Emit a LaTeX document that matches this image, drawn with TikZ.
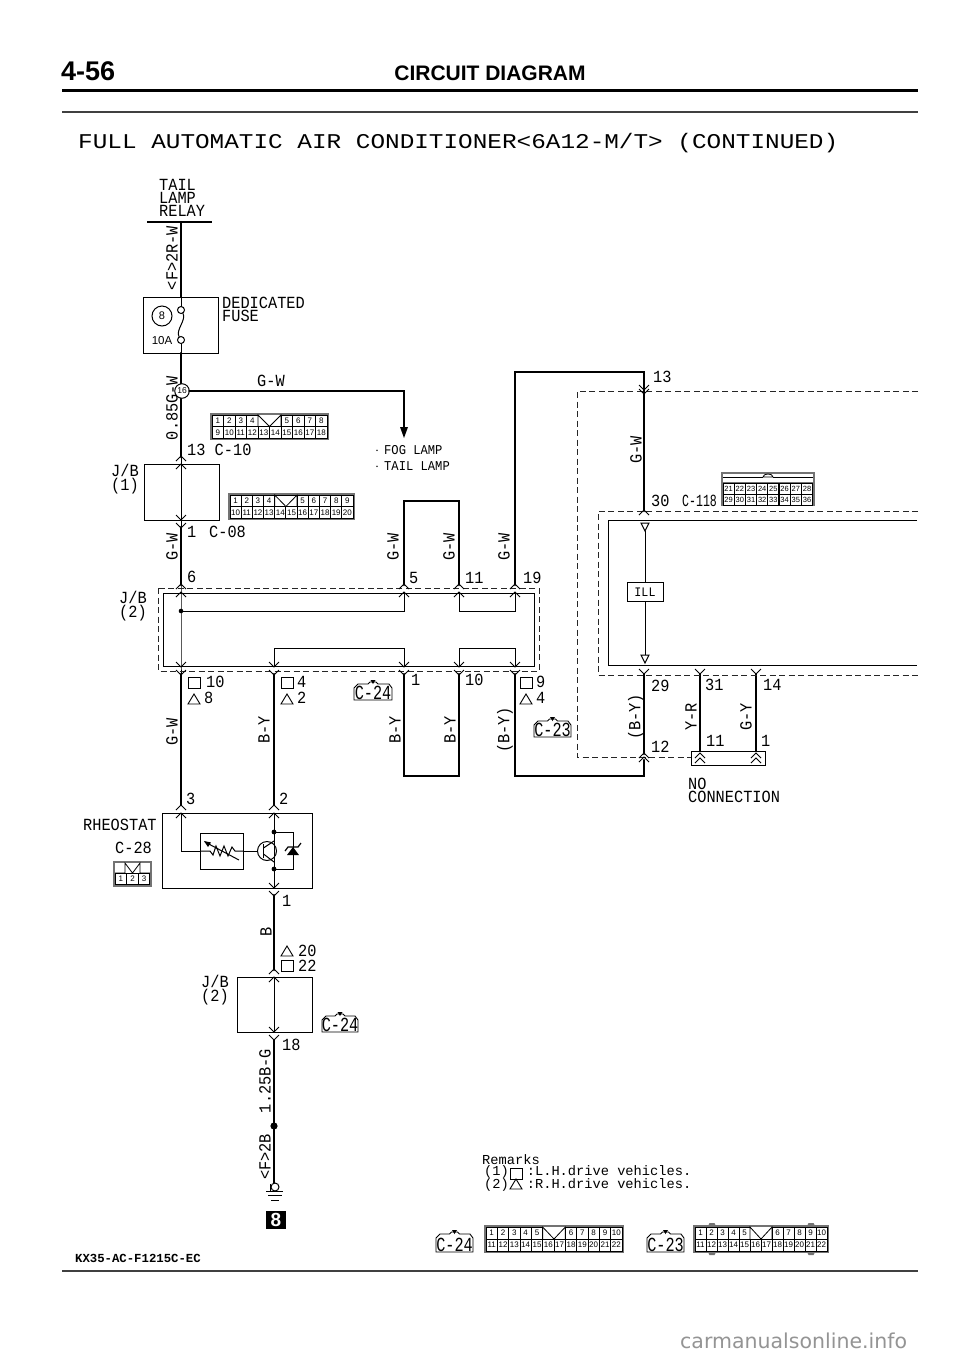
\documentclass[tikz,border=0pt]{standalone}
\usepackage{fontspec}
\setmainfont{Liberation Sans}
\newfontfamily\wfam[FakeStretch=0.9]{Liberation Mono}
\newfontfamily\nfam[FakeStretch=0.68]{Liberation Mono}
\newfontfamily\ifam[FakeStretch=0.76]{Liberation Mono}
\newfontfamily\tfam[FakeStretch=1.16]{Liberation Mono}
\newfontfamily\rfam{Liberation Mono}
\newfontfamily\dfam{DejaVu Sans}
\newcommand\wfx{\wfam\fontsize{17}{13}\selectfont}
\newcommand\nfx{\nfam\fontsize{17}{13}\selectfont}
\newcommand\sfx{\wfam\fontsize{13.5}{16}\selectfont}
\tikzset{
  wire/.style={line width=2.5pt,line cap=round,line join=miter},
  thin wire/.style={line width=1pt},
  boxn/.style={draw,line width=1pt,inner sep=0pt,outer sep=0pt},
  dash box/.style={line width=1pt,dash pattern=on 6pt off 3.5pt,black!85},
  chev/.style={line width=1pt},
  lab/.style={anchor=west,inner sep=0pt,font=\wfx},
  ctr/.style={inner sep=0pt,font=\wfx},
  rot/.style={inner sep=0pt,font=\wfx,rotate=90},
  cellnode/.style={draw,fill=white,line width=1pt,inner sep=0pt,outer sep=0pt,text height=5.8pt,text depth=0pt,font=\fontsize{8}{8}\selectfont},
  term/.style={circle,draw,fill=white,line width=1pt,inner sep=0pt,outer sep=0pt},
}
\newcommand\upc[2]{\draw[chev] (#1-5,#2+5) -- (#1,#2) -- (#1+5,#2+5);}
\newcommand\dnc[2]{\draw[chev] (#1-5,#2-5) -- (#1,#2) -- (#1+5,#2-5);}
\newcommand\bx[5]{\node[boxn,minimum width={#4-#2},minimum height={#5-#3}] (#1) at ({(#2+#4)/2},{(#3+#5)/2}) {};}
\newcommand\sqq[2]{\draw[line width=.9pt] (#1,#2) rectangle (#1+12,#2+11);}
\newcommand\trr[2]{\draw[line width=.9pt] (#1,#2+10) -- (#1+6,#2) -- (#1+12,#2+10) -- cycle;}
% connector: prefix x0 y0 x1 y1 columns nleft
\newcommand\conn[7]{%
  \pgfmathsetmacro\cellw{(#4-#2-4)/#6}%
  \pgfmathsetmacro\cellh{(#5-#3-4)/2}%
  \fill[black!55] (#2,#3) rectangle (#4,#5);
  \foreach \i in {1,...,#7} {\node[cellnode,minimum width=\cellw,minimum height=\cellh] (#1t\i) at ({#2+2+(\i-.5)*\cellw},{#3+2+.5*\cellh}) {\i};}
  \pgfmathtruncatemacro\ks{#7+1}%
  \pgfmathtruncatemacro\ne{#6-2}%
  \fill[white] ({#2+2+#7*\cellw},#3+2) rectangle ({#2+2+(#7+2)*\cellw},{#3+2+\cellh});
  \draw[line width=.8pt] ({#2+2+#7*\cellw},{#3+2+\cellh}) -- ({#2+2+#7*\cellw},#3+2) -- ({#2+2+(#7+1)*\cellw},{#3+2+\cellh}) -- ({#2+2+(#7+2)*\cellw},#3+2) -- ({#2+2+(#7+2)*\cellw},{#3+2+\cellh});
  \foreach \i in {\ks,...,\ne} {\node[cellnode,minimum width=\cellw,minimum height=\cellh] (#1t\i) at ({#2+2+(\i+1.5)*\cellw},{#3+2+.5*\cellh}) {\i};}
  \foreach \j [evaluate=\j as \k using int(\ne+\j)] in {1,...,#6} {\node[cellnode,minimum width=\cellw,minimum height=\cellh] (#1b\k) at ({#2+2+(\j-.5)*\cellw},{#3+2+1.5*\cellh}) {\k};}
}
% small connector icon: name x0 y0 x1 y1 text
\newcommand\icon[6]{%
  \draw[line width=.9pt] (#2,#5) -- (#2,#3+7) -- (#2+4,#3+3) -- ({(#2+#4)/2-5},#3+3) -- ({(#2+#4)/2-3},#3+1) -- ({(#2+#4)/2+3},#3+1) -- ({(#2+#4)/2+5},#3+3) -- (#4-3,#3+3) -- (#4,#3+7) -- (#4,#5) -- cycle;
  \fill ({(#2+#4)/2-2.5},#3-1) -- ({(#2+#4)/2+2.5},#3-1) -- ({(#2+#4)/2},#3+3) -- cycle;
  \node[ctr,inner sep=0pt,font=\ifam\fontsize{20}{20}\selectfont] (#1) at ({(#2+#4)/2},{#5-7.5}) {#6};
}
\begin{document}
\begin{tikzpicture}[x=1pt,y=-1pt]
\useasboundingbox (0,0) rectangle (960,1358);
\fill[white] (0,0) rectangle (960,1358);

% ---------- header
\node[anchor=west,inner sep=0pt,font=\bfseries\fontsize{27}{27}\selectfont] (page) at (61,71) {4-56};
\node[inner sep=0pt,font=\bfseries\fontsize{21}{21}\selectfont] (head) at (490,73) {CIRCUIT DIAGRAM};
\coordinate (h1a) at (62,90); \coordinate (h1b) at (918,90);
\draw[line width=3pt] (h1a) -- (h1b);
\coordinate (h2a) at (62,112); \coordinate (h2b) at (918,112);
\draw[line width=1.2pt,black!75] (h2a) -- (h2b);
\node[anchor=west,inner sep=0pt,font=\tfam\fontsize{21}{21}\selectfont] (title) at (78,143) {FULL AUTOMATIC AIR CONDITIONER<6A12-M/T> (CONTINUED)};

% ---------- named points
\coordinate (relayL) at (147,222); \coordinate (relayR) at (212,222);
\coordinate (wRelay) at (181,222);
\coordinate (fuseA) at (181,310); \coordinate (fuseB) at (181,340);
\coordinate (fAc) at (181,313.5); \coordinate (fBc) at (181,336.5);
\coordinate (fuseTop) at (181,297); \coordinate (fuseBot) at (181,353);
\coordinate (gwBend) at (404,391); \coordinate (gwEnd) at (404,428);
\coordinate (c13) at (181,457);
\coordinate (c1) at (181,527); \coordinate (c6) at (181,585);
\coordinate (jr) at (181,666);
\coordinate (jdot) at (181,611);
\coordinate (o5) at (404,611); \coordinate (i5) at (404,593);
\coordinate (i11) at (459,593); \coordinate (o11) at (459,611);
\coordinate (o19) at (515,611); \coordinate (i19) at (515,593);
\coordinate (i4) at (274,666); \coordinate (o4) at (274,648);
\coordinate (o1) at (404,648); \coordinate (i1) at (404,666);
\coordinate (i10) at (459,666); \coordinate (o10) at (459,648);
\coordinate (o9) at (515,648); \coordinate (i9) at (515,666);
\coordinate (w5) at (404,585); \coordinate (w5t) at (404,501);
\coordinate (w11) at (459,585); \coordinate (w11t) at (459,501);
\coordinate (w19) at (515,585); \coordinate (w19t) at (515,372);
\coordinate (w13t) at (644,372); \coordinate (w30) at (644,511);
\coordinate (l3t) at (181,674); \coordinate (l3) at (181,805);
\coordinate (l2t) at (274,674); \coordinate (l2) at (274,805);
\coordinate (l1t) at (404,674); \coordinate (l1b) at (404,776);
\coordinate (l10t) at (459,674); \coordinate (l10b) at (459,776);
\coordinate (l9t) at (515,674); \coordinate (l9b) at (515,776);
\coordinate (l12b) at (644,776); \coordinate (l12) at (644,760);
\coordinate (w29t) at (644,674); \coordinate (w29) at (644,754);
\coordinate (w31t) at (700,674); \coordinate (w31) at (700,751);
\coordinate (w14t) at (756,674); \coordinate (w14) at (756,751);
\coordinate (d1) at (577,391); \coordinate (d2) at (918,391);
\coordinate (d3) at (577,757); \coordinate (d4) at (691,757);
\coordinate (e1) at (918,511); \coordinate (e2) at (598,511);
\coordinate (e3) at (598,675); \coordinate (e4) at (918,675);
\coordinate (f1) at (917,520); \coordinate (f2) at (608,520);
\coordinate (f3) at (608,665); \coordinate (f4) at (917,665);
\coordinate (ill1) at (645,531); \coordinate (ill2) at (645,655);
\coordinate (rh3) at (181,813); \coordinate (rhB) at (181,851);
\coordinate (rhIn) at (200,851); \coordinate (rh2) at (274,813);
\coordinate (rhBot) at (274,888); \coordinate (tr1) at (274,832);
\coordinate (tr2) at (274,869); \coordinate (zn1) at (293,832);
\coordinate (zn2) at (293,869);
\coordinate (b1) at (274,895); \coordinate (b1b) at (274,970);
\coordinate (jb2t) at (274,977); \coordinate (jb2b) at (274,1032);
\coordinate (b18) at (274,1040); \coordinate (gnd) at (274,1183);
\coordinate (spl) at (274,1126);

% ---------- wires: thick
\draw[line width=1.6pt] (relayL) -- (relayR);
\draw[wire] (wRelay) -- (fuseTop);
\draw[wire] (fuseBot) -- (c13);
\draw[wire] (c1) -- (c6);
\draw[wire] (w5) -- (w5t) -- (w11t) -- (w11);
\draw[wire] (w19) -- (w19t) -- (w13t) -- (w30);
\draw[wire] (l3t) -- (l3);
\draw[wire] (l2t) -- (l2);
\draw[wire] (l1t) -- (l1b) -- (l10b) -- (l10t);
\draw[wire] (l9t) -- (l9b) -- (l12b) -- (l12);
\draw[wire] (w29t) -- (w29);
\draw[wire] (w31t) -- (w31);
\draw[wire] (w14t) -- (w14);
\draw[wire] (b1) -- (b1b);
\draw[wire] (b18) -- (gnd);
\fill (spl) circle (3.6);

% ---------- wires: thin
\draw[thin wire] (fuseTop) -- (fAc);
\draw[thin wire] (fBc) -- (fuseBot);
\draw[thin wire] (c13) -- (c1);
\draw[thin wire] (c6) -- (jr) -- (l3t);
\fill (jdot) circle (2.3);
\draw[thin wire] (jdot) -- (o5) -- (i5);
\draw[thin wire] (i11) -- (o11) -- (o19) -- (i19);
\draw[thin wire] (i4) -- (o4) -- (o1) -- (i1);
\draw[thin wire] (i10) -- (o10) -- (o9) -- (i9);
\draw[thin wire] (rh3) -- (rhB) -- (rhIn);
\draw[thin wire] (rh2) -- (rhBot);
\draw[thin wire] (tr1) -- (zn1) -- (zn2) -- (tr2);
\draw[thin wire] (jb2t) -- (jb2b);

% ---------- enclosures
\bx{fusebox}{143}{297}{218}{353}
\bx{jb1}{144}{464}{219}{520}
\draw[dash box] (158,588) rectangle (539,671);
\draw[line width=1pt] (163,593) rectangle (534,666);
\draw[dash box] (d2) -- (d1) -- (d3) -- (d4);
\draw[dash box] (e1) -- (e2) -- (e3) -- (e4);
\draw[line width=1pt] (f1) -- (f2) -- (f3) -- (f4);
\bx{nocon}{691}{751}{765}{765}
\bx{rheobox}{162}{813}{312}{888}
\bx{rheoin}{200}{833}{243}{869}
\bx{jb2low}{237}{977}{312}{1032}

% fuse
\node[term,minimum size=7pt] (ft1) at (fuseA) {};
\node[term,minimum size=7pt] (ft2) at (fuseB) {};
\draw[thin wire] (ft1) .. controls (187,320) and (175,330) .. (ft2);
\node[circle,draw,line width=1pt,minimum size=20pt,inner sep=0pt,font=\fontsize{11}{11}\selectfont] (amp) at (162,316) {8};
\node[inner sep=0pt,font=\fontsize{11.5}{11.5}\selectfont] (tenA) at (162,341) {10A};

% G-W branch with arrow
\node[term,minimum size=14.5pt,font=\fontsize{8.5}{8.5}\selectfont] (j16) at (182,391) {16};
\draw[wire] (j16) -- (gwBend) -- (gwEnd);
\fill (400,427) -- (408,427) -- (404,438) -- cycle;

% ILL
\node[boxn,minimum width=36pt,minimum height=19pt,font=\wfam\fontsize{13}{13}\selectfont] (ill) at (645,592) {ILL};
\draw[thin wire] (ill1) -- (ill.north);
\draw[thin wire] (ill.south) -- (ill2);
\draw[line width=1pt] (641,523) -- (649,523) -- (645,531) -- cycle;
\draw[line width=1pt] (641,655) -- (649,655) -- (645,663) -- cycle;

% chevrons
\upc{181}{456}\upc{181}{464}
\dnc{181}{520}\dnc{181}{528}
\foreach \xx in {181,404,459,515}{\upc{\xx}{584}\upc{\xx}{592}}
\foreach \xx in {181,274,404,459,515}{\dnc{\xx}{667}\dnc{\xx}{675}}
\upc{181}{805}\upc{181}{813}\upc{274}{805}\upc{274}{813}
\dnc{274}{888}\dnc{274}{896}
\upc{274}{969}\upc{274}{977}
\dnc{274}{1032}\dnc{274}{1040}
\dnc{644}{390}\dnc{644}{394}
\upc{644}{510}
\dnc{644}{674}\dnc{700}{674}\dnc{756}{674}
\upc{644}{753}\upc{644}{757}
\upc{700}{753}\upc{700}{758}\upc{756}{753}\upc{756}{758}

% rheostat symbol
\draw[thin wire] (rhIn) -- (210,851) -- (213,855) -- (216,846) -- (220,856) -- (224,846) -- (228,856) -- (232,847) -- (235,851) -- (rheoin.east);
\draw[thin wire] (205,842) -- (239,860);
\fill (204,841) -- (211,842.5) -- (208,847) -- cycle;
% transistor
\node[circle,draw,line width=1pt,minimum size=19pt,inner sep=0pt] (trans) at (267,851) {};
\draw[thin wire] (rheoin.east) -- (trans.west);
\draw[line width=1.4pt] (263.5,844) -- (263.5,858);
\draw[thin wire] (263.5,848) -- (274,841);
\draw[thin wire] (263.5,854) -- (274,862);
\fill (tr1) circle (2.4); \fill (tr2) circle (2.4);
% zener
\fill (287,855) -- (299,855) -- (293,847) -- cycle;
\draw[line width=1.2pt] (285,851) -- (288,847) -- (298,847) -- (301,843);

% ground
\node[term,minimum size=8pt] (gc) at (275,1187) {};
\draw[line width=1pt] (266,1191) -- (283,1191);
\draw[line width=1pt] (270,1184) -- (270,1191);
\draw[line width=1pt] (268,1195) -- (282,1195);
\draw[line width=1pt] (271,1200) -- (279,1200);
\node[fill=black,text=white,inner sep=0pt,minimum width=20pt,minimum height=18.5pt,font=\bfseries\fontsize{19}{19}\selectfont] (gnd8) at (276,1220) {8};

% ---------- connectors
\conn{cx}{210}{413}{329}{440}{10}{4}
\conn{cy}{228}{493}{355}{520}{11}{4}
\draw[line width=.8pt] (274.7,495) -- (297,495);
\conn{cl}{484}{1225}{624}{1253}{12}{5}
\foreach \xx in {712,811}{
  \fill[black!55] (\xx-3.5,1225) -- (\xx-2.5,1223) -- (\xx+2.5,1223) -- (\xx+3.5,1225) -- cycle;
  \fill[black!55] (\xx-3.5,1253) -- (\xx-2.5,1255) -- (\xx+2.5,1255) -- (\xx+3.5,1253) -- cycle;
}
\conn{cm}{693}{1225}{829}{1253}{12}{5}
% C-118
\fill[black!55] (721,472) rectangle (815,506);
\fill[white] (723,474) rectangle (813,482);
\draw[line width=.8pt] (723,477) -- (763,477); \draw[line width=.8pt] (773,477) -- (813,477);
\draw[line width=.8pt,fill=white] (763,477) .. controls (763,473) and (773,473) .. (773,477) -- cycle;
\foreach \i [evaluate=\i as \k using int(20+\i),evaluate=\i as \m using int(28+\i)] in {1,...,8}{
  \node[cellnode,minimum width=11.1pt,minimum height=11pt,font=\fontsize{7.5}{7.5}\selectfont] (cn\k) at ({723+(\i-.5)*11.2},488.5) {\k};
  \node[cellnode,minimum width=11.1pt,minimum height=11pt,font=\fontsize{7.5}{7.5}\selectfont] (cn\m) at ({723+(\i-.5)*11.2},499.5) {\m};
}
% C-28
\fill[black!55] (113,861) rectangle (152,887);
\fill[white] (115,863) rectangle (150,885);
\draw[line width=.8pt] (115,873) -- (125,873) -- (125,863) -- (132.5,873) -- (140,863) -- (140,873) -- (150,873);
\foreach \i in {1,2,3}{\node[cellnode,minimum width=11.6pt,minimum height=11pt] (cr\i) at ({115+(\i-.5)*11.67},879) {\i};}

% icons
\icon{ic24a}{354}{681}{392}{700}{C-24}
\icon{ic23a}{534}{718}{571}{737}{C-23}
\icon{ic24b}{322}{1013}{358}{1032}{C-24}
\icon{ic24c}{436}{1231}{473}{1252}{C-24}
\icon{ic23b}{647}{1231}{684}{1252}{C-23}

% ---------- labels
\node[lab,align=left] (relay) at (159,198) {TAIL\\LAMP\\RELAY};
\node[lab,align=left] (ded) at (222,309.5) {DEDICATED\\FUSE};
\node[rot] (t1) at (172,258) {<F>2R-W};
\node[rot] (t2) at (172,408) {0.85G-W};
\node[ctr] (t3) at (271,381) {G-W};
\node[lab] (t4) at (187,450) {13 C-10};
\node[lab,font=\sfx] (t5) at (375,450) {$\cdot$\hspace{5pt}FOG LAMP};
\node[lab,font=\sfx] (t6) at (375,466) {$\cdot$\hspace{5pt}TAIL LAMP};
\node[ctr,align=center] (t7) at (125,479) {J/B\\[1pt](1)};
\node[lab] (t8) at (187,532) {1};
\node[lab] (t9) at (209,532) {C-08};
\node[rot] (t10) at (172,547) {G-W};
\node[rot] (t11) at (393,547) {G-W};
\node[rot] (t12) at (449,547) {G-W};
\node[rot] (t13) at (504,547) {G-W};
\node[lab] (t14) at (187,577) {6};
\node[lab] (t15) at (409,578) {5};
\node[lab] (t16) at (465,578) {11};
\node[lab] (t17) at (523,578) {19};
\node[ctr,align=center] (t18) at (133,606) {J/B\\[1pt](2)};
\sqq{188}{677}\trr{188}{694}
\node[lab] (t19) at (206,682) {10};
\node[lab] (t20) at (204,698) {8};
\sqq{281}{677}\trr{281}{694}
\node[lab] (t21) at (297,682) {4};
\node[lab] (t22) at (297,698) {2};
\node[lab] (t23) at (411,680) {1};
\node[lab] (t24) at (465,680) {10};
\sqq{520}{677}\trr{520}{694}
\node[lab] (t25) at (536,682) {9};
\node[lab] (t26) at (536,698) {4};
\node[rot] (t27) at (172,732) {G-W};
\node[rot] (t28) at (264,730) {B-Y};
\node[rot] (t29) at (395,730) {B-Y};
\node[rot] (t30) at (450,730) {B-Y};
\node[rot] (t31) at (505,730) {(B-Y)};
\node[lab] (t32) at (186,799) {3};
\node[lab] (t33) at (279,799) {2};
\node[lab] (t34) at (653,377) {13};
\node[rot] (t35) at (636,450) {G-W};
\node[lab] (t36) at (651,501) {30};
\node[lab,font=\nfx] (t37) at (682,501) {C-118};
\node[lab] (t38) at (651,686) {29};
\node[lab] (t39) at (705,685) {31};
\node[lab] (t40) at (763,685) {14};
\node[rot] (t41) at (636,717) {(B-Y)};
\node[rot] (t42) at (691,717) {Y-R};
\node[rot] (t43) at (746,717) {G-Y};
\node[lab] (t44) at (651,747) {12};
\node[lab] (t45) at (706,741) {11};
\node[lab] (t46) at (761,741) {1};
\node[lab,align=left] (t47) at (688,790.5) {NO\\CONNECTION};
\node[lab] (t48) at (83,825) {RHEOSTAT};
\node[lab] (t49) at (115,848) {C-28};
\node[lab] (t50) at (282,901) {1};
\node[rot] (t51) at (266,932) {B};
\trr{281}{946}\sqq{281}{960}
\node[lab] (t52) at (298,951) {20};
\node[lab] (t53) at (298,966) {22};
\node[ctr,align=center] (t54) at (215,990) {J/B\\[1pt](2)};
\node[lab] (t55) at (282,1045) {18};
\node[rot] (t56) at (265,1081) {1.25B-G};
\node[rot] (t57) at (265,1157) {<F>2B};

% remarks
\node[lab,align=left,font=\rfam\fontsize{13.7}{11}\selectfont] (rm) at (482,1173) {Remarks\\\hspace*{2pt}(1)\hspace{18pt}:L.H.drive vehicles.\\\hspace*{2pt}(2)\hspace{18pt}:R.H.drive vehicles.};
\sqq{510}{1168}
\trr{510}{1179}

% footer
\node[anchor=west,inner sep=0pt,font=\rfam\bfseries\fontsize{12.3}{12.3}\selectfont] (code) at (75,1258) {KX35-AC-F1215C-EC};
\coordinate (fa) at (62,1271); \coordinate (fb) at (918,1271);
\draw[line width=1.2pt,black!75] (fa) -- (fb);
\node[anchor=west,inner sep=0pt,text=black!42,font=\dfam\fontsize{20.5}{21}\selectfont] (wm) at (680,1341) {carmanualsonline.info};
\end{tikzpicture}
\end{document}
